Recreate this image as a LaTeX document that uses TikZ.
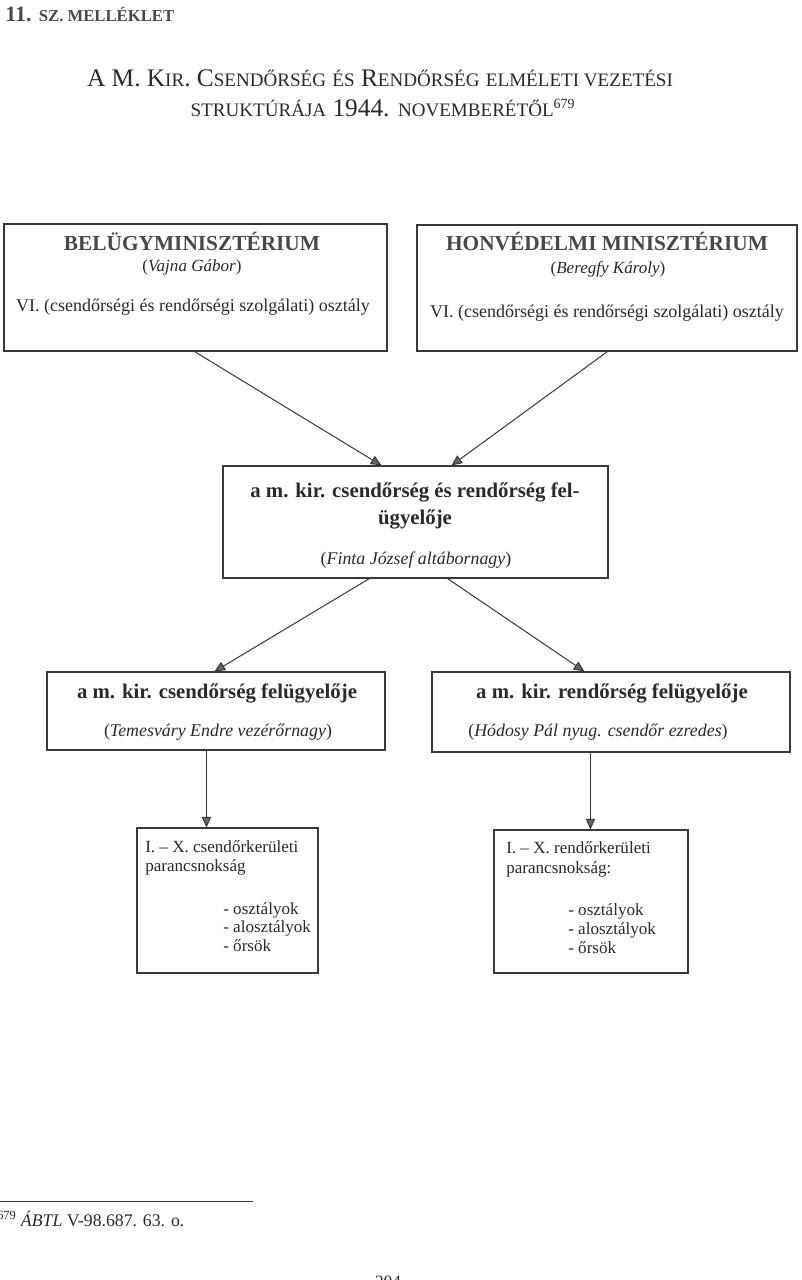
\documentclass[tikz,border=0pt]{standalone}
\usepackage{fontspec}
\setmainfont{Liberation Serif}
\usetikzlibrary{arrows.meta,fit,calc}
\definecolor{ink}{HTML}{2A2A2A}
\definecolor{headink}{HTML}{484848}
\definecolor{lineink}{HTML}{383838}
\definecolor{tipink}{HTML}{5E6A60}
\newcommand\mysc[1]{{\fontsize{14.3}{16}\selectfont #1}}
\begin{document}
\begin{tikzpicture}[x=0.75pt,y=-0.75pt,
  box/.style={draw=lineink, line width=0.8pt, inner sep=0pt},
  arr/.style={draw=lineink, line width=0.75pt, -{Triangle[length=8pt,width=7pt,fill=tipink]}},
  txt/.style={anchor=base, inner sep=0pt, text=ink},
  txtl/.style={anchor=base west, inner sep=0pt, text=ink},
  headbig/.style={txt, text=headink, font=\fontsize{16}{18}\selectfont\bfseries},
  headmid/.style={txt, font=\fontsize{15.6}{18}\selectfont\bfseries},
  itl/.style={txt, font=\fontsize{13.4}{15}\selectfont\itshape},
  itls/.style={txt, font=\fontsize{12.8}{15}\selectfont\itshape},
  reg/.style={txt, font=\fontsize{13.5}{15}\selectfont},
  small/.style={txtl, font=\fontsize{12.8}{14}\selectfont}
]
\useasboundingbox (0,0) rectangle (801,1280);
\fill[white] (0,0) rectangle (801,1280);

% header
\node[txtl, text=headink] (hdr) at (5,22) {\fontsize{16.5}{18}\selectfont\bfseries 11. {\fontsize{12.5}{14}\selectfont SZ. MELLÉKLET}};

% title
\node[txt, font=\fontsize{19}{21}\selectfont] (t1) at (380,87) {A M. K\mysc{IR}. C\mysc{SENDŐRSÉG} \mysc{ÉS} R\mysc{ENDŐRSÉG} \mysc{ELMÉLETI VEZETÉSI}};
\node[txt, font=\fontsize{19}{21}\selectfont] (t2) at (383,117) {\mysc{STRUKTÚRÁJA} 1944. \mysc{NOVEMBERÉTŐL}\textsuperscript{\fontsize{10.5}{12}\selectfont 679}};

% boxes
\node[box, fit={(4,224) (387,351)}] (bm) {};
\node[box, fit={(417,225) (797,351)}] (hm) {};
\node[box, fit={(223,466) (608,578)}] (fel) {};
\node[box, fit={(47,672) (385,750)}] (csf) {};
\node[box, fit={(432,672) (790,752)}] (rf) {};
\node[box, fit={(137,828) (318,973)}] (csk) {};
\node[box, fit={(494,830) (688,973)}] (rk) {};

% box 1
\node[headbig] (bm1) at (192,250) {BELÜGYMINISZTÉRIUM};
\node[itls] (bm2) at (192,271) {\upshape(\itshape Vajna Gábor\upshape)};
\node[reg] (bm3) at (193,311) {VI. (csendőrségi és rendőrségi szolgálati) osztály};

% box 2
\node[headbig] (hm1) at (607,251) {HONVÉDELMI MINISZTÉRIUM};
\node[itls] (hm2) at (608,273) {\upshape(\itshape Beregfy Károly\upshape)};
\node[reg] (hm3) at (607,317) {VI. (csendőrségi és rendőrségi szolgálati) osztály};

% middle box
\node[headmid] (fel1) at (415,497) {a m. kir. csendőrség és rendőrség fel-};
\node[headmid] (fel2) at (415,524) {ügyelője};
\node[itl] (fel3) at (416,564) {\upshape(\itshape Finta József altábornagy\upshape)};

% left box
\node[headmid] (csf1) at (217,698) {a m. kir. csendőrség felügyelője};
\node[itl] (csf2) at (218,736) {\upshape(\itshape Temesváry Endre vezérőrnagy\upshape)};

% right box
\node[headmid] (rf1) at (612,698) {a m. kir. rendőrség felügyelője};
\node[itl] (rf2) at (598,736) {\upshape(\itshape Hódosy Pál nyug. csendőr ezredes\upshape)};

% small left box
\node[small] (csk1) at (145,852) {I. – X. csendőrkerületi};
\node[small] (csk2) at (145,871) {parancsnokság};
\node[small] (csk3) at (223,914) {- osztályok};
\node[small] (csk4) at (223,932) {- alosztályok};
\node[small] (csk5) at (223,951) {- őrsök};

% small right box
\node[small] (rk1) at (506,853) {I. – X. rendőrkerületi};
\node[small] (rk2) at (506,873) {parancsnokság:};
\node[small] (rk3) at (568,915) {- osztályok};
\node[small] (rk4) at (568,934) {- alosztályok};
\node[small] (rk5) at (568,953) {- őrsök};

% connectors
\draw[arr] ($(bm.south west)+(191,0)$) -- ($(fel.north west)+(159,0)$);
\draw[arr] ($(hm.south west)+(191,0)$) -- ($(fel.north west)+(229,0)$);
\draw[arr] ($(fel.south west)+(147,0)$) -- ($(csf.north west)+(168,0)$);
\draw[arr] ($(fel.south west)+(225,0)$) -- ($(rf.north west)+(153,0)$);
\draw[arr] ($(csf.south west)+(160,0)$) -- ($(csk.north west)+(70,0)$);
\draw[arr] ($(rf.south west)+(159,0)$) -- ($(rk.north west)+(97,0)$);

% footnote
\coordinate (fnA) at (0,1201);
\coordinate (fnB) at (253,1201);
\draw[lineink, line width=0.6pt] (fnA) -- (fnB);
\node[txtl, font=\fontsize{13.3}{15}\selectfont] (fn) at (-3,1226) {\textsuperscript{679} \textit{ÁBTL} V-98.687. 63. o.};
\node[txt, font=\fontsize{13}{15}\selectfont, text=ink] (pg) at (388,1287) {204};
\end{tikzpicture}
\end{document}
